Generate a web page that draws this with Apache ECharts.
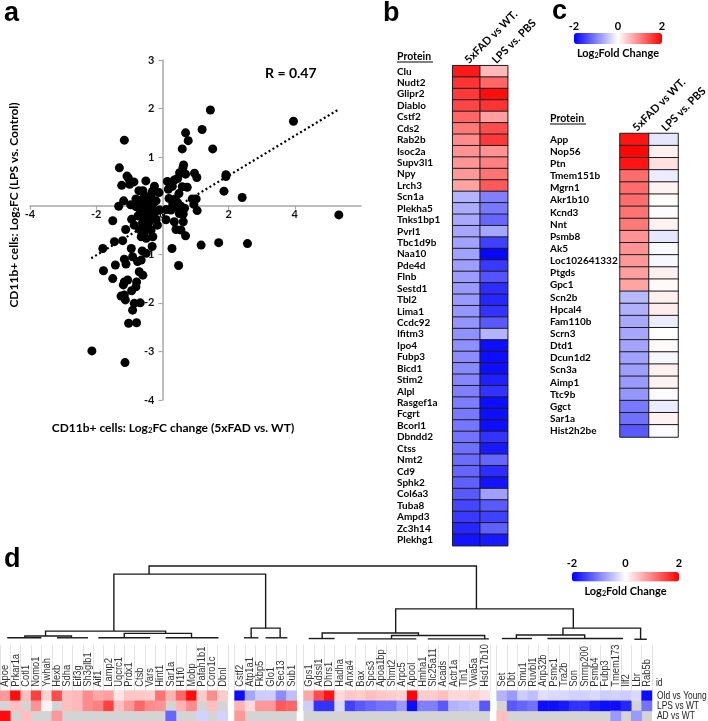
<!DOCTYPE html>
<html><head><meta charset="utf-8">
<script src="https://cdn.jsdelivr.net/npm/echarts/dist/echarts.min.js"></script>
<style>html,body{margin:0;padding:0;background:#fff}#c{width:708px;height:721px}</style>
</head><body><div id="c"></div><script>
// ---------- Panel a data ----------
const scatterX = [1.45,3.96,1.20,0.70,0.78,1.52,0.60,-1.15,-1.30,0.64,0.62,0.52,0.60,0.36,0.46,0.70,0.97,1.04,1.92,1.92,-1.07,-1.03,-0.86,-0.99,-0.50,-1.23,-0.24,-0.71,-0.59,-0.10,0.18,0.30,0.60,0.75,1.86,2.41,-1.17,-1.32,-0.80,-0.71,-0.59,-0.43,-0.33,-0.19,-0.27,-0.44,-0.59,-0.80,-0.96,-0.69,-0.49,-0.31,-0.09,0.11,0.26,0.31,0.39,0.46,0.56,0.67,0.31,0.41,0.51,0.63,0.90,1.02,0.95,1.05,-1.50,-1.11,-0.93,-0.74,-0.53,-0.37,-0.19,-0.24,-0.56,-0.42,0.11,0.36,0.63,0.41,0.56,-0.69,-0.54,-0.34,-0.29,-0.49,-0.64,0.70,-1.45,-1.20,-1.80,-0.94,-0.31,-0.61,-0.49,0.29,1.17,1.70,2.57,5.33,-1.42,-1.15,-1.10,-0.90,-0.75,-0.64,-1.78,0.49,-0.70,-0.59,-1.50,-1.15,-1.05,-1.18,-0.78,-0.80,-0.93,-1.25,-1.15,-1.12,-0.85,-0.67,-0.90,-1.02,-0.78,-2.13,-1.13,-0.35,-0.15,-0.45,-0.60,0.20,0.50,-0.85,-0.30,0.15,-0.55];
const scatterY = [1.97,1.74,1.57,1.50,1.34,1.17,1.17,1.35,0.78,0.84,0.78,0.68,0.68,0.53,0.56,0.65,0.67,0.58,0.64,0.60,0.61,0.57,0.49,0.44,0.51,0.42,0.40,0.31,0.31,0.27,0.34,0.40,0.39,0.38,0.30,0.17,0.10,-0.01,0.14,0.09,0.13,0.18,0.23,0.10,0.05,0.03,-0.02,-0.02,0.02,-0.06,-0.10,-0.08,-0.09,-0.08,-0.09,0.09,0.14,0.06,-0.02,-0.05,0.01,-0.03,-0.16,-0.17,0.14,0.14,0.03,-0.10,-0.31,-0.49,-0.28,-0.21,-0.29,-0.21,-0.29,-0.16,-0.16,-0.36,-0.29,-0.33,-0.33,-0.49,-0.50,-0.49,-0.54,-0.50,-0.64,-0.67,-0.64,-0.62,-0.74,-0.72,-0.88,-0.88,-0.84,-0.93,-0.98,-0.88,-0.81,-0.76,-0.78,-0.19,-1.22,-1.10,-1.20,-1.05,-1.15,-1.12,-1.34,-1.23,-1.36,-1.43,-1.50,-1.57,-1.53,-1.63,-1.57,-1.67,-1.75,-1.86,-1.84,-1.94,-2.01,-2.00,-2.15,-2.42,-2.41,-2.99,-3.23,-0.05,-0.40,-0.45,-0.35,0.15,0.25,-0.40,0.30,0.50,0.20];
const trendSlope = 0.41;
const trendIntercept = -0.20;
const corrText = 'R = 0.47';
const aXTicks = [-4, -2, 0, 2, 4, 6];
const aYTicks = [-4, -3, -2, -1, 0, 1, 2, 3];

// ---------- Panel b data ----------
const colHeaders = ['5xFAD vs WT.', 'LPS vs. PBS'];
const bProteins = ['Clu','Nudt2','Glipr2','Diablo','Cstf2','Cds2','Rab2b','Isoc2a','Supv3l1','Npy','Lrch3','Scn1a','Plekha5','Tnks1bp1','Pvrl1','Tbc1d9b','Naa10','Pde4d','Flnb','Sestd1','Tbl2','Lima1','Ccdc92','Ifitm3','Ipo4','Fubp3','Bicd1','Stim2','Alpl','Rasgef1a','Fcgrt','Bcorl1','Dbndd2','Ctss','Nmt2','Cd9','Sphk2','Col6a3','Tuba8','Ampd3','Zc3h14','Plekhg1'];
const b5xFAD = [1.8,1.6,1.55,1.45,1.2,1.05,0.9,0.85,0.82,0.8,0.72,-0.6,-0.65,-0.68,-0.7,-0.72,-0.74,-0.76,-0.78,-0.8,-0.8,-0.82,-0.84,-0.86,-0.88,-0.9,-0.92,-0.95,-1.0,-1.02,-1.05,-1.08,-1.1,-1.12,-1.15,-1.2,-1.25,-1.3,-1.45,-1.55,-1.7,-1.85];
const bLPS = [0.55,1.2,1.9,1.6,0.75,1.4,1.55,0.85,1.0,1.1,1.3,-1.0,-1.05,-1.2,-0.7,-1.5,-1.95,-1.55,-1.35,-1.65,-1.7,-1.6,-1.3,-0.6,-1.9,-1.9,-1.9,-1.75,-1.6,-1.9,-1.9,-1.9,-1.6,-1.8,-1.2,-1.65,-1.85,-0.75,-1.3,-1.5,-1.25,-1.8];

// ---------- Panel c data ----------
const cProteins = ['App','Nop56','Ptn','Tmem151b','Mgrn1','Akr1b10','Kcnd3','Nnt','Psmb8','Ak5','Loc102641332','Ptgds','Gpc1','Scn2b','Hpcal4','Fam110b','Scrn3','Dtd1','Dcun1d2','Scn3a','Aimp1','Ttc9b','Ggct','Sar1a','Hist2h2be'];
const c5xFAD = [1.85,1.95,1.85,1.15,1.15,1.15,1.1,1.05,0.85,0.85,0.8,0.75,0.72,-0.55,-0.62,-0.68,-0.7,-0.72,-0.74,-0.76,-0.8,-0.82,-1.05,-1.12,-1.3];
const cLPS = [-0.2,0.12,0.25,-0.15,0.1,0.02,-0.02,0.1,-0.2,-0.05,-0.06,0.12,0.05,0.12,0.14,-0.15,0.0,0.04,-0.06,0.12,0.1,-0.04,-0.15,0.1,-0.04];
const colorTicks = [-2, 0, 2];

// ---------- Panel d data ----------
const dGenes = ['Apoe','Prkar1a','Cotl1','Nomo1','Ywhah','Hexb','Sdha','Eif3g','Sh3glb1','Aif1','Lamp2','Uqcrc1','Prdx1','Ctsb','Vars','Hint1','Sar1a','H1f0','Mobp','Pafah1b1','Coro1c','Dbnl','Cstf2','Atp1a1','Fkbp5','Glo1','Sec13','Sub1','Gps1','Adssl1','Dhrs1','Hadha','Anxa4','Bax','Spcs3','Apoa1bp','Shmt2','Arpc5','Apool','Hmha1','Slc25a11','Acads','Actr1a','Tln1','Vwa5a','Hsd17b10','Set','Dbt','Smu1','Ruvbl1','Anp32b','Psmc1','Tra2b','Son','Snrnp200','Psmb4','Fubp3','Tmem173','Ilf2','Lbr','Rab5b'];
const dClusterSizes = [22, 6, 18, 15];
const dRows = ['Old vs Young', 'LPS vs WT', 'AD vs WT'];
const dOldYoung = [0.8,1.9,0.5,1.5,0.35,1.4,0.5,0.55,0.9,0.7,0.75,0.2,0.45,0.45,0.4,1.1,0.6,1.2,1.9,0.4,0.9,0.4,
  -1.9,-0.7,-0.4,-0.4,-0.9,-0.5,
  0.7,1.4,1.85,0.3,0.45,0.4,0.5,0.45,0.4,0.35,1.95,0.4,0.4,0.5,0.3,0.3,0.35,0.25,
  -0.6,-0.8,-0.4,-0.5,-0.25,-0.3,-0.3,-0.35,-0.35,-0.3,-0.4,-0.35,-0.4,-0.3,-1.9];
const dLpsWt = [null,0.5,null,0.85,0.1,null,0.5,0.55,0.9,1.0,1.5,0.5,0.8,1.2,0.9,0.85,null,0.6,0.9,null,0.5,null,
  0.6,0.3,0.8,0.8,1.3,1.2,
  -0.4,-1.6,-1.6,-0.3,-1.5,-1.3,-1.2,-1.1,-1.1,-0.8,-1.9,-1.0,-1.0,-1.3,-0.6,-0.55,-0.5,-1.3,
  null,-1.3,-1.2,-1.1,-1.9,-1.9,-1.8,-1.6,-1.6,-1.8,-1.9,-1.9,-1.7,null,-1.1];
const dAdWt = [1.9,null,0.5,null,null,0.8,null,null,null,null,null,null,null,null,null,null,-1.2,null,null,-0.35,null,-0.35,
  0.8,null,null,null,null,null,
  null,null,null,null,null,null,null,null,null,null,null,null,null,null,null,null,null,null,
  0.5,null,null,null,null,null,null,null,null,null,null,-0.8,null,-0.8,null];
// dendrogram merges: [left leaf-pos, left height, right leaf-pos, right height, merge height]
const dendroMerges = [
  [13.9,8.9,44.2,4.2,10],
  [10.5,1.2,24.5,1.6,8.9],
  [36.4,0.95,52.9,1.6,4.2],
  [3.9,0.55,15.5,0.9,1.2],
  [1.9,0.3,6.4,0.3,0.55],
  [11.5,0.3,18.0,0.3,0.9],
  [0.2,0.3,3.5,0.3,0.3],[5.0,0.3,8.0,0.3,0.3],[9.0,0.3,14.0,0.3,0.3],[15.5,0.3,20.6,0.3,0.3],
  [23.1,0.3,25.9,0.3,1.6],
  [22.4,0.3,23.8,0.3,0.3],[24.5,0.3,26.6,0.3,0.3],
  [29.3,0.2,38.6,0.6,0.95],
  [28.0,0.2,30.5,0.2,0.2],
  [36.0,0.15,45.0,0.15,0.6],
  [32.7,0.15,38.4,0.15,0.15],[39.5,0.15,45.4,0.15,0.15],
  [51.9,0.68,59.4,0.1,1.6],
  [47.4,0.2,54.0,0.2,0.68],
  [46.0,0.2,48.9,0.2,0.2],[50.4,0.2,57.7,0.2,0.2],[58.8,0.1,60.0,0.1,0.1]
];

// ---------- layout helpers ----------
const F = 'Lato, "Open Sans", sans-serif';
const FA = '"Liberation Sans", Arial, sans-serif';
const GAP = 0.66;
const dTotal = 61 + 3 * GAP;
const dWidth = 652;
const cellW = dWidth / dTotal;
const clusterStarts = [];
{ let s = 0; dClusterSizes.forEach(n => { clusterStarts.push(s); s += n; }); }
function clusterOf(i) { let k = 0; for (let j = 0; j < clusterStarts.length; j++) if (i >= clusterStarts[j] - 0.5) k = j; return k; }
function leafToAxis(i) { return i + 0.5 + GAP * clusterOf(i); }

const grids = [], xAxes = [], yAxes = [], series = [];
function hidden() { return { show: false }; }

// a
const aGrid = { left: 30, top: 60, width: 331, height: 340 };
const ax = aXTicks, ay = aYTicks;
const zeroXpx = (0 - ax[0]) / (ax[ax.length-1] - ax[0]) * aGrid.width;
const zeroYpx = (ay[ay.length-1] - 0) / (ay[ay.length-1] - ay[0]) * aGrid.height;
grids.push(Object.assign({ outerBoundsMode: 'none' }, aGrid));
const axisGrey = '#a8a8a8';
xAxes.push({ type: 'value', gridIndex: 0, min: ax[0], max: ax[ax.length-1], interval: 2, position: 'bottom',
  offset: -(aGrid.height - zeroYpx),
  axisLine: { onZero: false, lineStyle: { color: axisGrey, width: 1.5 } },
  axisTick: { show: true, length: 4, lineStyle: { color: axisGrey, width: 1.2 } },
  axisLabel: { fontFamily: F, fontWeight: 'bold', fontSize: 11, color: '#111', margin: 3, showMaxLabel: false, showMinLabel: true },
  splitLine: { show: false } });
yAxes.push({ type: 'value', gridIndex: 0, min: ay[0], max: ay[ay.length-1], interval: 1, position: 'left',
  offset: -zeroXpx,
  axisLine: { onZero: false, lineStyle: { color: axisGrey, width: 1.5 } },
  axisTick: { show: true, length: 4, lineStyle: { color: axisGrey, width: 1.2 } },
  axisLabel: { fontFamily: F, fontWeight: 'bold', fontSize: 11, color: '#111', margin: 8, showMinLabel: true, showMaxLabel: true,
    formatter: v => (v === 0 ? '' : String(v)) },
  splitLine: { show: false } });
series.push({ type: 'scatter', xAxisIndex: 0, yAxisIndex: 0, symbolSize: 9, itemStyle: { color: '#000', opacity: 1 },
  data: scatterX.map((x, i) => [x, scatterY[i]]), silent: true, z: 3 });
const tx0 = Math.min(...scatterX) - 0.02, tx1 = Math.max(...scatterX);
series.push({ type: 'line', xAxisIndex: 0, yAxisIndex: 0, symbol: 'none', silent: true,
  lineStyle: { color: '#000', width: 2.2, type: [2, 2.6] },
  data: [[tx0, trendSlope * tx0 + trendIntercept], [tx1, trendSlope * tx1 + trendIntercept]] });

// b & c heatmaps
function smallHeat(gi, left, top, w, h, proteins, v1, v2, margin) {
  grids.push({ left, top, width: w, height: h, outerBoundsMode: 'none' });
  xAxes.push({ type: 'category', gridIndex: gi, position: 'top', data: colHeaders,
    axisLine: hidden(), axisTick: hidden(), splitLine: hidden(),
    axisLabel: { rotate: -45, interval: 0, margin: 4, fontFamily: F, fontWeight: 'bold', fontSize: 11, color: '#000' } });
  yAxes.push({ type: 'category', gridIndex: gi, inverse: true, data: proteins,
    axisLine: hidden(), axisTick: hidden(), splitLine: hidden(),
    axisLabel: { interval: 0, align: 'left', margin, fontFamily: F, fontWeight: 'bold', fontSize: 10, color: '#000' } });
  const data = [];
  proteins.forEach((p, i) => { data.push([0, i, v1[i]]); data.push([1, i, v2[i]]); });
  series.push({ type: 'heatmap', xAxisIndex: gi, yAxisIndex: gi, data, silent: true,
    itemStyle: { borderColor: '#1c1c1c', borderWidth: 1 }, emphasis: { disabled: true } });
}
smallHeat(1, 452.7, 65.7, 55, 480, bProteins, b5xFAD, bLPS, 55.7);
smallHeat(2, 620, 133.5, 58, 303.5, cProteins, c5xFAD, cLPS, 70);

// d heatmaps
const dRowVals = [dOldYoung, dLpsWt, dAdWt];
const dGeneLists = [];
dClusterSizes.forEach((n, k) => {
  const gi = 3 + k, s = clusterStarts[k];
  const genes = dGenes.slice(s, s + n);
  dGeneLists.push(genes);
  grids.push({ left: (s + GAP * k) * cellW, top: 690.7, width: n * cellW, height: 30.3, show: true,
    backgroundColor: '#d4d4d4', borderWidth: 0, outerBoundsMode: 'none' });
  xAxes.push({ type: 'category', gridIndex: gi, position: 'top', data: genes,
    axisLine: hidden(), splitLine: hidden(), axisLabel: hidden(),
    axisTick: { show: true, interval: 0, length: 46, lineStyle: { color: '#e4e4e4', width: 1 } } });
  yAxes.push({ type: 'category', gridIndex: gi, inverse: true, data: dRows,
    axisLine: hidden(), axisTick: hidden(), splitLine: hidden(), axisLabel: hidden() });
  const data = [];
  for (let j = 0; j < n; j++) dRowVals.forEach((row, r) => { const v = row[s + j]; if (v !== null) data.push([j, r, v]); });
  series.push({ type: 'heatmap', xAxisIndex: gi, yAxisIndex: gi, data, silent: true, emphasis: { disabled: true } });
});

// dendrogram
grids.push({ left: 0, top: 566, width: dWidth, height: 74, outerBoundsMode: 'none' });
xAxes.push({ type: 'value', gridIndex: 7, min: 0, max: dTotal, show: false });
yAxes.push({ type: 'value', gridIndex: 7, min: 0, max: 10, show: false });
series.push({ type: 'custom', xAxisIndex: 7, yAxisIndex: 7, silent: true, clip: false,
  data: dendroMerges.map(m => [leafToAxis(m[0]), m[1], leafToAxis(m[2]), m[3], m[4]]),
  renderItem: (params, api) => {
    const a = api.coord([api.value(0), api.value(1)]);
    const b = api.coord([api.value(0), api.value(4)]);
    const c = api.coord([api.value(2), api.value(4)]);
    const d = api.coord([api.value(2), api.value(3)]);
    return { type: 'polyline', shape: { points: [a, b, c, d] }, style: { stroke: '#1a1a1a', lineWidth: 1.4, fill: null } };
  } });

// d column labels (vertical, condensed, reading upward from just above the heatmap)
const condensed = 0.85;
dGeneLists.forEach((genes, k) => {
  const gi = 3 + k;
  series.push({ type: 'custom', xAxisIndex: gi, yAxisIndex: gi, silent: true, clip: false,
    data: genes.map((_, j) => [j, 0]),
    renderItem: (params, api) => {
      const p = api.coord([api.value(0), 0]);
      const h = api.size([0, 1])[1];
      return { type: 'text', x: p[0], y: p[1] - h / 2 - 4, rotation: Math.PI / 2, scaleX: condensed,
        style: { text: genes[params.dataIndex], font: '11px ' + FA, fill: '#333', align: 'left', verticalAlign: 'middle' } };
    } });
});
// d row labels on the right of the last cluster
{
  const k = dClusterSizes.length - 1, gi = 3 + k, n = dClusterSizes[k];
  series.push({ type: 'custom', xAxisIndex: gi, yAxisIndex: gi, silent: true, clip: false,
    data: dRows.map((_, r) => [n - 1, r]),
    renderItem: (params, api) => {
      const p = api.coord([api.value(0), api.value(1)]);
      const w = api.size([1, 0])[0];
      return { type: 'text', x: p[0] + w / 2 + 5, y: p[1], scaleX: 0.8,
        style: { text: dRows[params.dataIndex], font: '10.5px ' + FA, fill: '#222', align: 'left', verticalAlign: 'middle' } };
    } });
}

// visual maps
const vmColors = ['#0000ff', '#ffffff', '#ff0000'];
const cBar = { left: 574, top: 33, len: 88, thick: 11 };
const dBar = { left: 572, top: 572, len: 107, thick: 9.5 };
const visualMap = [
  { type: 'continuous', min: -2, max: 2, seriesIndex: [2, 3], inRange: { color: vmColors }, orient: 'horizontal',
    left: cBar.left, top: cBar.top, itemWidth: cBar.thick, itemHeight: cBar.len, calculable: false, padding: 0,
    text: null, showLabel: false, hoverLink: false, show: true },
  { type: 'continuous', min: -2, max: 2, seriesIndex: [4, 5, 6, 7], inRange: { color: vmColors }, orient: 'horizontal',
    left: dBar.left, top: dBar.top, itemWidth: dBar.thick, itemHeight: dBar.len, calculable: false, padding: 0,
    text: null, showLabel: false, hoverLink: false, show: true }
];

// graphic texts
const g = [];
function txt(x, y, text, font, opts) {
  g.push(Object.assign({ type: 'text', x, y, silent: true,
    style: Object.assign({ text, font, fill: '#000', align: 'left', verticalAlign: 'middle' }, (opts && opts.style) || {}) },
    opts && opts.extra ? opts.extra : {}));
}
const letterFont = 'bold 27px ' + FA;
txt(4, 14, 'a', letterFont);
txt(383, 14, 'b', letterFont);
txt(552, 12, 'c', letterFont);
txt(4, 560, 'd', letterFont);
txt(265, 73, corrText, 'bold 14px ' + F);
const subRich = (fs) => ({ t: { fontFamily: F, fontWeight: 'bold', fontSize: fs, fill: '#000' },
  s: { fontFamily: F, fontWeight: 'bold', fontSize: fs * 0.65, fill: '#000', verticalAlign: 'bottom', padding: [fs * 0.45, 0, 0, 0] } });
g.push({ type: 'text', x: 14, y: 205, rotation: Math.PI / 2, silent: true,
  style: { text: '{t|CD11b+ cells: Log}{s|2}{t|FC (LPS vs. Control)}', rich: subRich(12), align: 'center', verticalAlign: 'middle' } });
g.push({ type: 'text', x: 173, y: 428, silent: true,
  style: { text: '{t|CD11b+ cells: Log}{s|2}{t|FC change (5xFAD vs. WT)}', rich: subRich(12), align: 'center', verticalAlign: 'middle' } });
function proteinHead(x, y) {
  txt(x, y, 'Protein', 'bold 10.5px ' + F);
  g.push({ type: 'line', silent: true, shape: { x1: x, y1: y + 5, x2: x + 36, y2: y + 5 }, style: { stroke: '#000', lineWidth: 1 } });
}
proteinHead(397, 57);
proteinHead(550, 119);
function barLabels(bar, labelY, titleY, fs) {
  colorTicks.forEach(v => {
    txt(bar.left + (v - colorTicks[0]) / (colorTicks[colorTicks.length-1] - colorTicks[0]) * bar.len, labelY, String(v), 'bold ' + fs + 'px ' + F,
      { style: { align: 'center' } });
  });
  g.push({ type: 'text', x: bar.left + bar.len / 2, y: titleY, silent: true,
    style: { text: '{t|Log}{s|2}{t|Fold Change}', rich: subRich(fs), align: 'center', verticalAlign: 'middle' } });
}
barLabels(cBar, 26, 53, 11);
barLabels(dBar, 563, 591, 11);
txt(656, 683, 'id', '10.5px ' + FA, { style: { fill: '#222' }, extra: { scaleX: 0.8 } });

const chart = echarts.init(document.getElementById('c'), null, { renderer: 'canvas' });
chart.setOption({ animation: false, backgroundColor: '#fff', grid: grids, xAxis: xAxes, yAxis: yAxes,
  visualMap, series, graphic: { elements: g } });
</script></body></html>
